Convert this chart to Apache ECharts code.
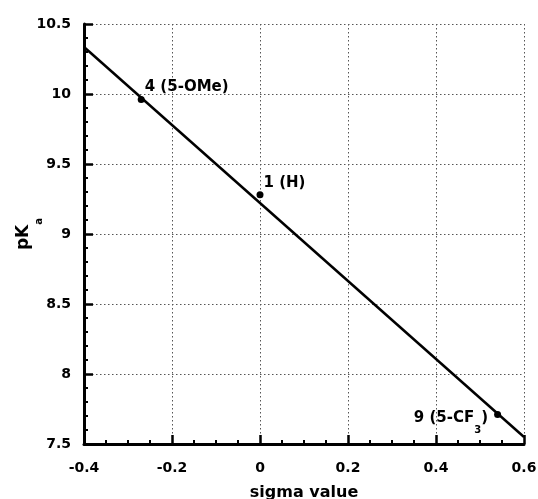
<!DOCTYPE html>
<html>
<head>
<meta charset="utf-8">
<script src="https://cdn.jsdelivr.net/npm/echarts@6/dist/echarts.min.js"></script>
<style>
html,body{margin:0;padding:0;background:#fff;}
#chart{width:538px;height:499px;}
</style>
</head>
<body>
<div id="chart"></div>
<script>
// Data
const sigmaValues = [-0.27, 0.0, 0.54];
const pKaValues = [9.96, 9.28, 7.71];
const pointLabels = ['4 (5-OMe)', '1 (H)', '9 (5-CF{sub|3})'];
const fitX = [-0.4, 0.6];
const fitY = [10.336, 7.55];
const xTicks = { min: -0.4, max: 0.6, interval: 0.2 };
const yTicks = { min: 7.5, max: 10.5, interval: 0.5 };

const FONT = 'DejaVu Sans';
const chart = echarts.init(document.getElementById('chart'), null, { renderer: 'canvas' });

const labelStyles = [
  { position: 'right', distance: 0, offset: [0, -12] },
  { position: 'right', distance: 0, offset: [0, -12] },
  { position: 'left', distance: 6, offset: [0, 4] }
];

const scatterData = sigmaValues.map((x, i) => ({
  value: [x, pKaValues[i]],
  label: Object.assign({
    show: true,
    formatter: pointLabels[i],
    color: '#000',
    opacity: 1,
    fontFamily: FONT,
    fontWeight: 'bold',
    fontSize: 15,
    rich: {
      sub: { fontFamily: FONT, fontWeight: 'bold', fontSize: 10, padding: [24, 0, 0, 0], color: '#000' }
    }
  }, labelStyles[i])
}));

const axisCommon = {
  type: 'value',
  axisLine: { show: true, onZero: false, lineStyle: { color: '#000', width: 3 } },
  axisTick: { show: true, inside: true, length: 9, lineStyle: { color: '#000', width: 2.5 } },
  minorTick: { show: true, length: 4, lineStyle: { color: '#000', width: 2 } },
  splitLine: { show: true, lineStyle: { color: '#555', type: [1.5, 2.5], width: 1 } },
  minorSplitLine: { show: false },
  axisLabel: { color: '#000', fontFamily: FONT, fontWeight: 'bold', fontSize: 14 },
  nameLocation: 'middle',
  nameMoveOverlap: false
};

chart.setOption({
  animation: false,
  backgroundColor: '#fff',
  grid: { left: 84, right: 14, top: 24, bottom: 55, containLabel: false, outerBoundsMode: 'none' },
  xAxis: Object.assign({}, axisCommon, {
    min: xTicks.min, max: xTicks.max, interval: xTicks.interval,
    minorTick: Object.assign({}, axisCommon.minorTick, { splitNumber: 4 }),
    axisLabel: Object.assign({}, axisCommon.axisLabel, { margin: 17 }),
    name: 'sigma value',
    nameGap: 41,
    nameTextStyle: { color: '#000', fontFamily: FONT, fontWeight: 'bold', fontSize: 16 }
  }),
  yAxis: Object.assign({}, axisCommon, {
    min: yTicks.min, max: yTicks.max, interval: yTicks.interval,
    minorTick: Object.assign({}, axisCommon.minorTick, { splitNumber: 5 }),
    axisLabel: Object.assign({}, axisCommon.axisLabel, { margin: 13 }),
    name: 'pK{sub|a}',
    nameGap: 40,
    nameRotate: 90,
    nameTextStyle: {
      color: '#000', fontFamily: FONT, fontWeight: 'bold', fontSize: 17,
      rich: { sub: { fontFamily: FONT, fontWeight: 'bold', fontSize: 10, padding: [30, 0, 0, 0], color: '#000' } }
    }
  }),
  series: [
    {
      type: 'line',
      data: fitX.map((x, i) => [x, fitY[i]]),
      symbol: 'none',
      lineStyle: { color: '#000', width: 2.5 },
      z: 3
    },
    {
      type: 'scatter',
      data: scatterData,
      symbol: 'circle',
      symbolSize: 7,
      itemStyle: { color: '#000', opacity: 1 },
      z: 4
    }
  ]
});
</script>
</body>
</html>
